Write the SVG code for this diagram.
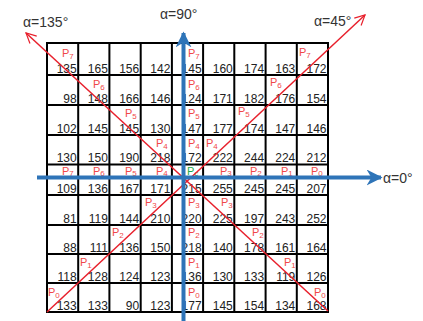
<svg xmlns="http://www.w3.org/2000/svg" width="423" height="321" viewBox="0 0 423 321">
<defs>
<style>
.g{stroke:#000;stroke-width:2;fill:none}
.n{font-family:"Liberation Sans",Arial,sans-serif;font-size:12px;fill:#222;text-anchor:end}
.p{font-family:"Liberation Sans",Arial,sans-serif;font-size:11px;fill:#f04848}
.pc{fill:#1aa84a}
.s{font-size:8px}
.lab{font-family:"Liberation Sans",Arial,sans-serif;font-size:14px;fill:#333}
.red{stroke:#e8202c;stroke-width:1.5;fill:none}
.blue{stroke:#2e74b8;stroke-width:4;fill:none}
</style>
<marker id="bh" viewBox="0 0 10 10" refX="9" refY="5" markerWidth="4" markerHeight="4" orient="auto" markerUnits="strokeWidth">
<path d="M0,0 L10,5 L0,10 L3,5 z" fill="#2e74b8"/>
</marker>
<marker id="rh" viewBox="0 0 12 12" refX="11" refY="6" markerWidth="8" markerHeight="8" orient="auto" markerUnits="strokeWidth">
<path d="M1,1 L11,6 L1,11" fill="none" stroke="#e8202c" stroke-width="1.2"/>
</marker>
</defs>
<rect width="423" height="321" fill="#fff"/>
<g id="grid" class="g">
<rect x="47" y="43" width="281" height="269"/>
<path d="M78.2,43V312M109.4,43V312M140.7,43V312M171.9,43V312M203.1,43V312M234.3,43V312M265.6,43V312M296.8,43V312"/>
<path d="M47,75H328M47,105H328M47,135H328M47,164.5H328M47,195H328M47,225H328M47,254H328M47,283H328"/>
</g>
<g id="values" class="n">
<text x="76.7" y="72.5">135</text><text x="107.9" y="72.5">165</text><text x="139.2" y="72.5">156</text><text x="170.4" y="72.5">142</text><text x="201.6" y="72.5">145</text><text x="232.8" y="72.5">160</text><text x="264.1" y="72.5">174</text><text x="295.3" y="72.5">163</text><text x="326.5" y="72.5">172</text>
<text x="76.7" y="102.5">98</text><text x="107.9" y="102.5">148</text><text x="139.2" y="102.5">166</text><text x="170.4" y="102.5">146</text><text x="201.6" y="102.5">124</text><text x="232.8" y="102.5">171</text><text x="264.1" y="102.5">182</text><text x="295.3" y="102.5">176</text><text x="326.5" y="102.5">154</text>
<text x="76.7" y="132.5">102</text><text x="107.9" y="132.5">145</text><text x="139.2" y="132.5">145</text><text x="170.4" y="132.5">130</text><text x="201.6" y="132.5">147</text><text x="232.8" y="132.5">177</text><text x="264.1" y="132.5">174</text><text x="295.3" y="132.5">147</text><text x="326.5" y="132.5">146</text>
<text x="76.7" y="162">130</text><text x="107.9" y="162">150</text><text x="139.2" y="162">190</text><text x="170.4" y="162">218</text><text x="201.6" y="162">172</text><text x="232.8" y="162">222</text><text x="264.1" y="162">244</text><text x="295.3" y="162">224</text><text x="326.5" y="162">212</text>
<text x="76.7" y="192.5">109</text><text x="107.9" y="192.5">136</text><text x="139.2" y="192.5">167</text><text x="170.4" y="192.5">171</text><text x="201.6" y="192.5">215</text><text x="232.8" y="192.5">255</text><text x="264.1" y="192.5">245</text><text x="295.3" y="192.5">245</text><text x="326.5" y="192.5">207</text>
<text x="76.7" y="222.5">81</text><text x="107.9" y="222.5">119</text><text x="139.2" y="222.5">144</text><text x="170.4" y="222.5">210</text><text x="201.6" y="222.5">220</text><text x="232.8" y="222.5">225</text><text x="264.1" y="222.5">197</text><text x="295.3" y="222.5">243</text><text x="326.5" y="222.5">252</text>
<text x="76.7" y="251.5">88</text><text x="107.9" y="251.5">111</text><text x="139.2" y="251.5">136</text><text x="170.4" y="251.5">150</text><text x="201.6" y="251.5">218</text><text x="232.8" y="251.5">140</text><text x="264.1" y="251.5">178</text><text x="295.3" y="251.5">161</text><text x="326.5" y="251.5">164</text>
<text x="76.7" y="280.5">118</text><text x="107.9" y="280.5">128</text><text x="139.2" y="280.5">124</text><text x="170.4" y="280.5">123</text><text x="201.6" y="280.5">136</text><text x="232.8" y="280.5">130</text><text x="264.1" y="280.5">133</text><text x="295.3" y="280.5">119</text><text x="326.5" y="280.5">126</text>
<text x="76.7" y="309.5">133</text><text x="107.9" y="309.5">133</text><text x="139.2" y="309.5">90</text><text x="170.4" y="309.5">123</text><text x="201.6" y="309.5">177</text><text x="232.8" y="309.5">145</text><text x="264.1" y="309.5">154</text><text x="295.3" y="309.5">134</text><text x="326.5" y="309.5">168</text>
</g>
<g id="labels" class="p">
<text x="62" y="57">P<tspan class="s" dy="2">7</tspan></text>
<text x="188" y="57">P<tspan class="s" dy="2">7</tspan></text>
<text x="299" y="56">P<tspan class="s" dy="2">7</tspan></text>
<text x="93" y="88">P<tspan class="s" dy="2">6</tspan></text>
<text x="188" y="88">P<tspan class="s" dy="2">6</tspan></text>
<text x="270" y="86">P<tspan class="s" dy="2">6</tspan></text>
<text x="125" y="117">P<tspan class="s" dy="2">5</tspan></text>
<text x="188" y="117">P<tspan class="s" dy="2">5</tspan></text>
<text x="238" y="115">P<tspan class="s" dy="2">5</tspan></text>
<text x="156" y="147">P<tspan class="s" dy="2">4</tspan></text>
<text x="188" y="147">P<tspan class="s" dy="2">4</tspan></text>
<text x="206" y="147">P<tspan class="s" dy="2">4</tspan></text>
<text x="62" y="174.5">P<tspan class="s" dy="1.5">7</tspan></text>
<text x="93" y="174.5">P<tspan class="s" dy="1.5">6</tspan></text>
<text x="125" y="174.5">P<tspan class="s" dy="1.5">5</tspan></text>
<text x="156" y="174.5">P<tspan class="s" dy="1.5">4</tspan></text>
<text x="187" y="174.5" class="pc">P<tspan class="s" dy="1.5">c</tspan></text>
<text x="220" y="174.5">P<tspan class="s" dy="1.5">3</tspan></text>
<text x="250" y="174.5">P<tspan class="s" dy="1.5">2</tspan></text>
<text x="281" y="174.5">P<tspan class="s" dy="1.5">1</tspan></text>
<text x="311" y="174.5">P<tspan class="s" dy="1.5">0</tspan></text>
<text x="145" y="206">P<tspan class="s" dy="2">3</tspan></text>
<text x="188" y="206">P<tspan class="s" dy="2">3</tspan></text>
<text x="221" y="206">P<tspan class="s" dy="2">3</tspan></text>
<text x="112" y="236">P<tspan class="s" dy="2">2</tspan></text>
<text x="188" y="236">P<tspan class="s" dy="2">2</tspan></text>
<text x="252" y="236">P<tspan class="s" dy="2">2</tspan></text>
<text x="80" y="266">P<tspan class="s" dy="2">1</tspan></text>
<text x="188" y="266">P<tspan class="s" dy="2">1</tspan></text>
<text x="284" y="266">P<tspan class="s" dy="2">1</tspan></text>
<text x="48" y="296">P<tspan class="s" dy="2">0</tspan></text>
<text x="188" y="296">P<tspan class="s" dy="2">0</tspan></text>
<text x="314" y="296">P<tspan class="s" dy="2">0</tspan></text>
</g>
<g id="connectors">
<line class="red" x1="47" y1="312" x2="365" y2="15" marker-end="url(#rh)"/>
<line class="red" x1="328" y1="311" x2="26" y2="33" marker-end="url(#rh)"/>
<line class="blue" x1="183.5" y1="321" x2="183.5" y2="33" marker-end="url(#bh)"/>
<line class="blue" x1="37" y1="177.5" x2="381" y2="177.5" marker-end="url(#bh)"/>
</g>
<g id="angle-labels" class="lab">
<text x="23" y="27">α=135°</text>
<text x="160" y="19">α=90°</text>
<text x="314" y="26">α=45°</text>
<text x="383" y="183">α=0°</text>
</g>
</svg>
